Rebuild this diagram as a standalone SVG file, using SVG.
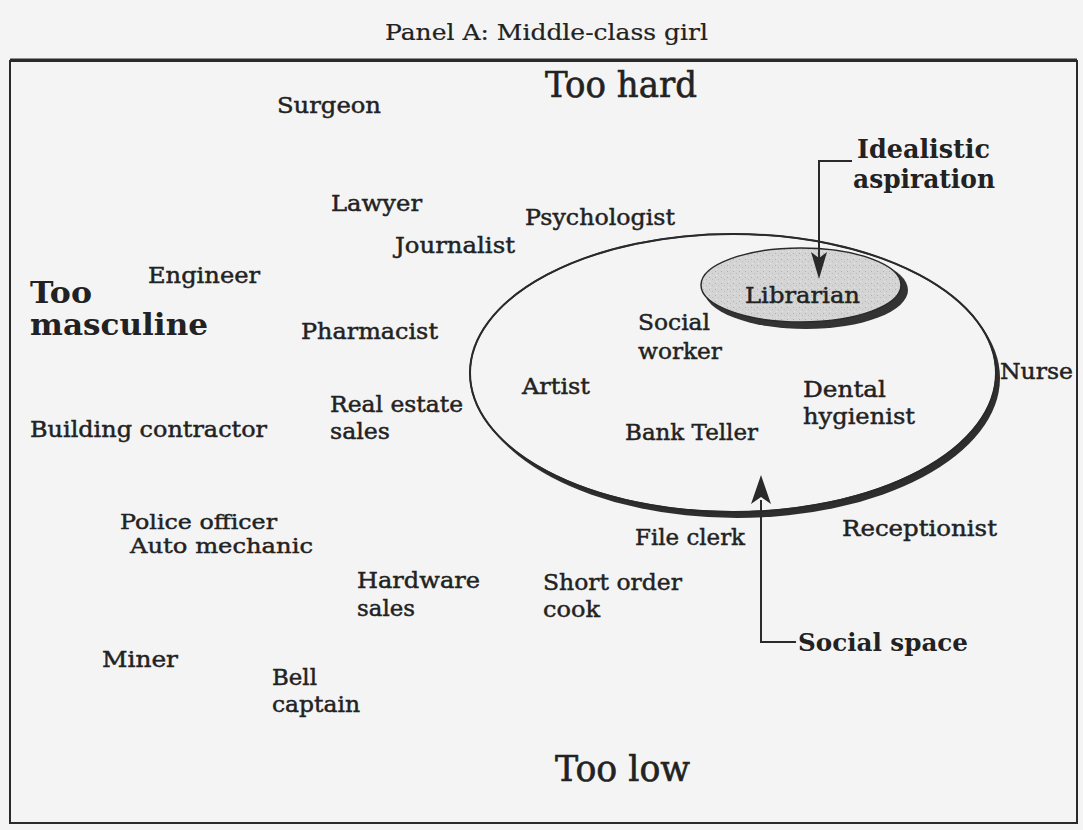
<svg xmlns="http://www.w3.org/2000/svg" width="1083" height="830" viewBox="0 0 1083 830">
<style>
text{font-family:"DejaVu Serif","Liberation Serif",serif;fill:#222}
.lb{font-size:22px;stroke:#222;stroke-width:0.45}
.hd{font-size:26px;font-weight:bold}
.big{font-size:35px;stroke:#222;stroke-width:0.6}
.ln{fill:none;stroke:#2a2a2a;stroke-width:2}
.ah{fill:#2a2a2a;stroke:none}
</style>
<defs>
<pattern id="stip" width="6" height="6" patternUnits="userSpaceOnUse">
<rect width="6" height="6" fill="#d4d4d4"/>
<rect x="1" y="1" width="1" height="1" fill="#b0b0b0"/>
<rect x="4" y="3" width="1" height="1" fill="#bcbcbc"/>
<rect x="2" y="5" width="1" height="1" fill="#e6e6e6"/>
</pattern>
</defs>
<rect width="1083" height="830" fill="#f4f4f4"/>
<text x="385" y="40" style="font-size:22px;stroke:#222;stroke-width:0.2" textLength="323" lengthAdjust="spacingAndGlyphs">Panel A:  Middle-class girl</text>
<rect x="10" y="61" width="1067" height="762" fill="none" stroke="#2a2a2a" stroke-width="2"/>
<line x1="10" y1="60" x2="1077" y2="60" stroke="#2a2a2a" stroke-width="3"/>

<g id="social-space-ellipse">
<ellipse cx="737" cy="378" rx="263" ry="140" fill="#2e2e2e"/>
<ellipse cx="733" cy="373" rx="263" ry="139" fill="#f4f4f4" stroke="#2a2a2a" stroke-width="2"/>
</g>
<g id="librarian">
<ellipse cx="806" cy="290" rx="102" ry="39" fill="#333"/>
<ellipse cx="801" cy="285" rx="100" ry="37" fill="url(#stip)" stroke="#2a2a2a" stroke-width="1.5"/>
<text class="lb" x="745" y="303" textLength="115" lengthAdjust="spacingAndGlyphs">Librarian</text>
</g>
<ellipse cx="733" cy="373" rx="263" ry="139" fill="none" stroke="#2a2a2a" stroke-width="1.5"/>

<g id="connectors">
<path class="ln" d="M852 161 H819 V258"/>
<path class="ah" d="M819 279 L811 252 L819 258 L827 252 Z"/>
<path class="ln" d="M796 642 H761 V500"/>
<path class="ah" d="M761 475 L751 504 L761 497 L771 504 Z"/>
</g>

<g id="too-hard"><text class="big" x="545" y="97" textLength="152" lengthAdjust="spacingAndGlyphs">Too hard</text></g>
<g id="too-low"><text class="big" x="555" y="781" textLength="135" lengthAdjust="spacingAndGlyphs">Too low</text></g>
<g id="too-masculine">
<text class="hd" style="font-size:29px" x="30" y="303" textLength="62" lengthAdjust="spacingAndGlyphs">Too</text>
<text class="hd" style="font-size:29px" x="30" y="335" textLength="178" lengthAdjust="spacingAndGlyphs">masculine</text>
</g>
<g id="idealistic-aspiration">
<text class="hd" x="857" y="158" textLength="133" lengthAdjust="spacingAndGlyphs">Idealistic</text>
<text class="hd" x="853" y="188" textLength="142" lengthAdjust="spacingAndGlyphs">aspiration</text>
</g>
<g id="social-space-label"><text class="hd" style="font-size:25px" x="798" y="651" textLength="170" lengthAdjust="spacingAndGlyphs">Social space</text></g>

<g id="surgeon"><text class="lb" x="277" y="113" textLength="104" lengthAdjust="spacingAndGlyphs">Surgeon</text></g>
<g id="lawyer"><text class="lb" x="331" y="211" textLength="91" lengthAdjust="spacingAndGlyphs">Lawyer</text></g>
<g id="psychologist"><text class="lb" x="525" y="225" textLength="150" lengthAdjust="spacingAndGlyphs">Psychologist</text></g>
<g id="journalist"><text class="lb" x="395" y="253" textLength="120" lengthAdjust="spacingAndGlyphs">Journalist</text></g>
<g id="engineer"><text class="lb" x="148" y="283" textLength="112" lengthAdjust="spacingAndGlyphs">Engineer</text></g>
<g id="pharmacist"><text class="lb" x="301" y="339" textLength="137" lengthAdjust="spacingAndGlyphs">Pharmacist</text></g>
<g id="social-worker">
<text class="lb" x="638" y="330" textLength="72" lengthAdjust="spacingAndGlyphs">Social</text>
<text class="lb" x="638" y="359" textLength="84" lengthAdjust="spacingAndGlyphs">worker</text>
</g>
<g id="artist"><text class="lb" x="522" y="394" textLength="68" lengthAdjust="spacingAndGlyphs">Artist</text></g>
<g id="dental-hygienist">
<text class="lb" x="803" y="397" textLength="83" lengthAdjust="spacingAndGlyphs">Dental</text>
<text class="lb" x="803" y="424" textLength="112" lengthAdjust="spacingAndGlyphs">hygienist</text>
</g>
<g id="nurse"><text class="lb" x="1000" y="379" textLength="73" lengthAdjust="spacingAndGlyphs">Nurse</text></g>
<g id="real-estate-sales">
<text class="lb" x="330" y="412" textLength="133" lengthAdjust="spacingAndGlyphs">Real estate</text>
<text class="lb" x="330" y="439" textLength="60" lengthAdjust="spacingAndGlyphs">sales</text>
</g>
<g id="building-contractor"><text class="lb" x="30" y="437" textLength="237" lengthAdjust="spacingAndGlyphs">Building contractor</text></g>
<g id="bank-teller"><text class="lb" x="625" y="440" textLength="133" lengthAdjust="spacingAndGlyphs">Bank Teller</text></g>
<g id="receptionist"><text class="lb" x="842" y="536" textLength="155" lengthAdjust="spacingAndGlyphs">Receptionist</text></g>
<g id="police-officer"><text class="lb" style="font-size:21px" x="120" y="529" textLength="157" lengthAdjust="spacingAndGlyphs">Police officer</text></g>
<g id="auto-mechanic"><text class="lb" style="font-size:21px" x="130" y="553" textLength="183" lengthAdjust="spacingAndGlyphs">Auto mechanic</text></g>
<g id="file-clerk"><text class="lb" x="635" y="545" textLength="110" lengthAdjust="spacingAndGlyphs">File clerk</text></g>
<g id="hardware-sales">
<text class="lb" x="357" y="588" textLength="123" lengthAdjust="spacingAndGlyphs">Hardware</text>
<text class="lb" x="357" y="616" textLength="58" lengthAdjust="spacingAndGlyphs">sales</text>
</g>
<g id="short-order-cook">
<text class="lb" x="543" y="590" textLength="139" lengthAdjust="spacingAndGlyphs">Short order</text>
<text class="lb" x="543" y="617" textLength="57" lengthAdjust="spacingAndGlyphs">cook</text>
</g>
<g id="miner"><text class="lb" x="102" y="667" textLength="76" lengthAdjust="spacingAndGlyphs">Miner</text></g>
<g id="bell-captain">
<text class="lb" x="272" y="685" textLength="45" lengthAdjust="spacingAndGlyphs">Bell</text>
<text class="lb" x="272" y="712" textLength="88" lengthAdjust="spacingAndGlyphs">captain</text>
</g>
</svg>
